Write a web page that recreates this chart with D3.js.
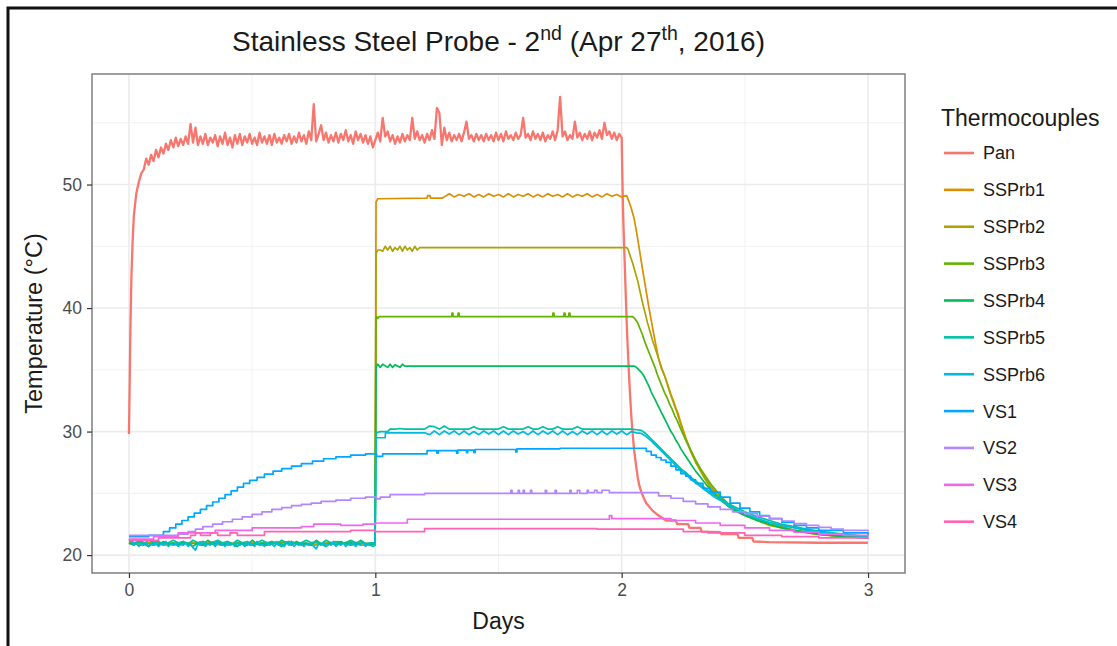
<!DOCTYPE html>
<html>
<head>
<meta charset="utf-8">
<script src="https://cdn.jsdelivr.net/npm/d3@7"></script>
<style>
  html, body { margin: 0; padding: 0; background: #fff; }
  svg { display: block; font-family: "Liberation Sans", Arial, Helvetica, sans-serif; }
</style>
</head>
<body>
<svg id="chart" width="1117" height="646"></svg>
<script>
// ---- data -------------------------------------------------------------
const seriesNames = ["Pan", "SSPrb1", "SSPrb2", "SSPrb3", "SSPrb4", "SSPrb5", "SSPrb6", "VS1", "VS2", "VS3", "VS4"];
const seriesColors = ["#F8766D", "#DB8E00", "#AEA200", "#64B200", "#00BD5C", "#00C1A7", "#00BADE", "#00A6FF", "#B385FF", "#EF67EB", "#FF63B6"];
const xTicks = [0, 1, 2, 3];
const yTicks = [20, 30, 40, 50];
const xMinor = [0.5, 1.5, 2.5];
const yMinor = [25, 35, 45, 55];

// readings logged at a fixed interval: [day, °C]
function sampled(start, step, temps) {
  return temps.map((t, i) => [+(start + i * step).toFixed(4), t]);
}

const panRise = [[0, 29.8], [0.003, 34.0], [0.006, 38.5], [0.01, 42.5], [0.015, 45.5], [0.02, 47.5], [0.03, 49.3], [0.04, 50.2], [0.05, 50.9]];
const panHold = [
  51.2, 52.1, 51.6, 52.4, 51.9, 52.8, 52.2, 53.0, 52.5, 53.3,
  52.8, 53.6, 53.0, 53.8, 53.1, 53.7, 53.2, 53.9, 53.3, 54.9,
  53.4, 54.6, 53.2, 53.9, 53.3, 54.1, 53.2, 53.8, 53.4, 54.0,
  53.1, 53.9, 53.3, 54.2, 53.2, 53.8, 53.0, 54.0, 53.3, 54.1,
  53.2, 53.9, 53.4, 54.1, 53.3, 53.8, 53.2, 54.2, 53.4, 53.9,
  53.3, 54.0, 53.2, 54.1, 53.4, 53.8, 53.3, 54.0, 53.5, 54.1,
  53.3, 53.9, 53.4, 54.2, 53.5, 54.0, 53.3, 54.3, 53.6, 56.5,
  53.5, 54.1, 54.8, 53.6, 54.2, 53.4, 54.0, 53.5, 54.2, 53.4,
  54.1, 53.6, 54.4, 53.5, 54.0, 53.3, 54.3, 53.6, 54.1, 53.4,
  54.0, 53.3, 53.9, 53.0, 53.6, 54.2, 53.5, 55.4, 53.9, 54.3,
  53.5, 54.0, 53.3, 53.9, 53.4, 54.1, 53.5, 54.0, 53.6, 55.4,
  53.7, 54.3, 53.6, 54.0, 53.4, 54.1, 53.6, 54.4, 53.7, 56.2,
  55.8, 53.2, 54.6, 53.6, 54.2, 53.5, 54.0, 53.6, 54.1, 53.5,
  54.2, 55.1, 53.7, 54.0, 53.5, 54.1, 53.6, 54.0, 53.5, 54.1,
  53.6, 54.0, 53.5, 54.2, 53.6, 54.1, 53.5, 54.3, 53.7, 54.0,
  53.6, 54.2, 53.7, 54.0, 55.4, 53.8, 54.1, 53.6, 54.3, 53.7,
  54.1, 53.6, 54.2, 53.5, 54.0, 53.7, 54.3, 53.6, 54.4, 57.1,
  53.9, 54.3, 53.6, 54.0, 53.7, 55.1, 53.8, 54.2, 53.6, 54.1,
  53.7, 54.3, 53.6, 54.2, 53.8, 54.4, 53.7, 55.0, 54.0, 54.3,
  53.7, 54.2, 53.6, 54.1, 53.8
];
const panFall = [[2.003, 50.3], [2.006, 47.5], [2.01, 45.0], [2.015, 42.0], [2.02, 39.0], [2.025, 36.6], [2.03, 34.5], [2.035, 32.6], [2.04, 31.0], [2.045, 29.7], [2.05, 28.6], [2.058, 27.3], [2.065, 26.3], [2.072, 25.6], [2.08, 25.1], [2.09, 24.6], [2.1, 24.2], [2.125, 23.6], [2.15, 23.2], [2.18, 22.8], [2.22, 22.8], [2.225, 22.5], [2.27, 22.5], [2.275, 22.2], [2.32, 22.2], [2.325, 21.9], [2.4, 21.85], [2.405, 21.7], [2.47, 21.7], [2.475, 21.4], [2.53, 21.4], [2.535, 21.1], [2.6, 21.05], [2.8, 21.0], [3.0, 21.0]];

const ssprb1Idle = [21.1, 20.9, 21.0, 20.8, 21.0, 20.9, 21.1, 20.8, 21.0, 20.9, 21.0, 20.8, 21.1, 20.9, 21.0, 20.8, 21.0, 20.9, 21.1, 20.9];
const ssprb1Step = [[0.999, 20.9], [1.003, 48.6], [1.01, 48.85], [1.21, 48.9], [1.212, 49.1], [1.222, 49.1], [1.224, 48.9], [1.27, 48.9]];
const ssprb1Hold = [49.0, 49.25, 49.0, 49.2, 49.05, 49.25, 49.0, 49.2, 49.0, 49.25, 49.05, 49.2, 49.0, 49.25, 49.0, 49.2, 49.05, 49.25, 49.0, 49.2, 49.0, 49.25, 49.05, 49.2, 49.0, 49.25, 49.0, 49.2, 49.05, 49.25, 49.0, 49.2, 49.0, 49.25, 49.05, 49.2, 49.0, 49.1];
const ssprb1Fall = [[2.03, 48.6], [2.04, 48.0], [2.05, 47.3], [2.06, 46.2], [2.07, 45.0], [2.08, 43.7], [2.09, 42.5], [2.1, 41.3], [2.11, 40.1], [2.12, 39.0], [2.13, 37.9], [2.14, 36.9], [2.15, 35.9], [2.16, 35.2], [2.17, 34.7], [2.18, 34.2], [2.19, 33.6], [2.2, 33.0], [2.21, 32.5], [2.22, 31.9], [2.23, 31.4], [2.24, 30.7], [2.25, 30.1], [2.26, 29.5], [2.28, 28.5], [2.3, 27.6], [2.32, 26.9], [2.34, 26.2], [2.36, 25.6], [2.38, 25.1], [2.4, 24.6], [2.43, 24.1], [2.46, 23.7], [2.5, 23.3], [2.55, 22.9], [2.6, 22.5], [2.65, 22.3], [2.7, 22.0], [2.8, 21.7], [2.9, 21.5], [3.0, 21.4]];

const ssprb2Idle = [21.0, 20.8, 21.1, 20.9, 20.8, 21.0, 20.9, 21.1, 20.8, 21.0, 20.9, 20.8, 21.0, 21.1, 20.9, 20.8, 21.0, 20.9, 21.0, 20.8];
const ssprb2Step = [[0.999, 20.9], [1.003, 44.4], [1.01, 44.7], [1.02, 44.7]];
const ssprb2Jitter = [44.6, 45.0, 44.7, 45.0, 44.6, 44.9, 44.7, 45.0, 44.6, 45.0, 44.7, 44.9, 44.6, 45.0, 44.7, 44.9];
const ssprb2Fall = [[1.19, 44.9], [2.02, 44.9], [2.025, 44.8], [2.035, 44.2], [2.045, 43.6], [2.055, 42.9], [2.065, 42.2], [2.075, 41.3], [2.085, 40.4], [2.095, 39.6], [2.105, 38.8], [2.115, 38.1], [2.125, 37.4], [2.135, 36.8], [2.145, 36.2], [2.155, 35.6], [2.165, 35.0], [2.175, 34.5], [2.19, 33.5], [2.2, 32.9], [2.22, 31.8], [2.24, 30.6], [2.26, 29.4], [2.28, 28.4], [2.3, 27.5], [2.32, 26.8], [2.34, 26.1], [2.36, 25.5], [2.38, 25.0], [2.4, 24.5], [2.43, 24.0], [2.46, 23.6], [2.5, 23.2], [2.55, 22.8], [2.6, 22.4], [2.65, 22.2], [2.7, 21.95], [2.8, 21.65], [2.9, 21.5], [3.0, 21.4]];

const ssprb3Idle = [20.9, 21.1, 20.8, 21.0, 20.9, 21.0, 20.8, 21.1, 20.9, 21.0, 20.8, 21.0, 20.9, 21.1, 20.8, 21.0, 20.9, 21.1, 20.8, 21.0];
const ssprb3Hold = [[0.999, 20.9], [1.003, 39.1], [1.006, 39.3], [1.01, 39.15], [1.015, 39.3], [1.31, 39.3], [1.311, 39.6], [1.315, 39.6], [1.316, 39.3], [1.335, 39.3], [1.336, 39.6], [1.34, 39.6], [1.341, 39.3], [1.72, 39.3], [1.721, 39.6], [1.725, 39.6], [1.726, 39.3], [1.765, 39.3], [1.766, 39.6], [1.77, 39.6], [1.771, 39.3], [1.785, 39.3], [1.786, 39.6], [1.79, 39.6], [1.791, 39.3]];
const ssprb3Fall = [[2.045, 39.3], [2.055, 39.1], [2.065, 38.8], [2.075, 38.3], [2.085, 37.8], [2.095, 37.2], [2.105, 36.7], [2.115, 36.2], [2.125, 35.7], [2.135, 35.2], [2.145, 34.6], [2.155, 34.1], [2.165, 33.6], [2.175, 33.1], [2.185, 32.7], [2.195, 32.2], [2.205, 31.8], [2.215, 31.3], [2.225, 30.9], [2.24, 30.2], [2.26, 29.3], [2.28, 28.5], [2.3, 27.7], [2.32, 27.0], [2.34, 26.4], [2.36, 25.8], [2.38, 25.3], [2.4, 24.8], [2.43, 24.2], [2.46, 23.7], [2.5, 23.3], [2.55, 22.9], [2.6, 22.5], [2.65, 22.25], [2.7, 22.0], [2.8, 21.7], [2.9, 21.55], [3.0, 21.45]];

const ssprb4Idle = [
  21.0, 20.8, 21.1, 20.9, 20.7, 21.0, 20.8, 21.1, 20.9, 21.0,
  20.8, 21.1, 20.9, 20.7, 21.0, 20.8, 21.2, 20.9, 21.0, 20.8,
  21.1, 20.9, 20.7, 21.0, 20.8, 21.2, 20.9, 21.0, 20.8, 21.1,
  20.9, 20.7, 21.0, 20.8, 21.1, 20.9, 21.0, 20.8, 21.2, 20.9,
  20.7, 21.0, 20.8, 21.1, 20.9, 21.0, 20.8, 21.2, 20.9, 20.8
];
const ssprb4Hold = [[0.999, 20.9], [1.003, 35.2], [1.01, 35.45], [1.02, 35.2], [1.03, 35.45], [1.05, 35.2], [1.06, 35.45], [1.07, 35.2], [1.08, 35.4], [1.1, 35.2], [1.11, 35.45], [1.12, 35.3], [2.05, 35.3]];
const ssprb4Fall = [[2.06, 35.2], [2.07, 35.0], [2.08, 34.8], [2.09, 34.5], [2.1, 34.1], [2.11, 33.7], [2.12, 33.2], [2.13, 32.8], [2.14, 32.4], [2.15, 32.0], [2.16, 31.6], [2.17, 31.2], [2.18, 30.8], [2.19, 30.4], [2.2, 30.0], [2.21, 29.7], [2.22, 29.3], [2.23, 29.0], [2.24, 28.6], [2.26, 28.0], [2.28, 27.4], [2.3, 26.8], [2.32, 26.3], [2.34, 25.8], [2.36, 25.3], [2.38, 24.9], [2.4, 24.5], [2.43, 24.0], [2.46, 23.6], [2.5, 23.2], [2.55, 22.8], [2.6, 22.5], [2.65, 22.2], [2.7, 22.0], [2.8, 21.7], [2.9, 21.5], [3.0, 21.4]];

const ssprb5Idle = [
  21.2, 21.0, 21.1, 20.9, 21.2, 21.0, 21.1, 20.9, 21.0, 21.2,
  21.0, 21.1, 20.9, 21.2, 21.0, 21.1, 20.9, 21.0, 21.2, 21.0,
  21.1, 20.9, 21.2, 21.0, 21.1, 20.9, 21.0, 21.2, 21.0, 21.1,
  20.9, 21.2, 21.0, 21.1, 20.9, 21.0, 21.2, 21.0, 21.1, 20.9,
  21.2, 21.0, 21.1, 20.9, 21.0, 21.2, 21.0, 21.1, 20.9, 21.0
];
const ssprb5Step = [[0.999, 21.0], [1.003, 29.9], [1.02, 30.0], [1.05, 30.0]];
const ssprb5Hold = [
  30.2, 30.2, 30.25, 30.2, 30.2, 30.2, 30.2, 30.2, 30.45, 30.4,
  30.2, 30.45, 30.2, 30.2, 30.2, 30.2, 30.2, 30.4, 30.2, 30.2,
  30.2, 30.2, 30.2, 30.4, 30.2, 30.2, 30.2, 30.2, 30.4, 30.2,
  30.2, 30.4, 30.2, 30.2, 30.4, 30.2, 30.2, 30.2, 30.4, 30.2,
  30.2, 30.2, 30.2, 30.2, 30.2, 30.2, 30.2, 30.2, 30.2, 30.2,
  30.15, 30.1
];
const ssprb5Fall = [[2.1, 29.8], [2.12, 29.4], [2.14, 29.0], [2.16, 28.6], [2.18, 28.2], [2.2, 27.8], [2.22, 27.4], [2.24, 27.0], [2.26, 26.7], [2.28, 26.3], [2.3, 26.0], [2.32, 25.7], [2.34, 25.4], [2.36, 25.1], [2.38, 24.8], [2.4, 24.6], [2.43, 24.2], [2.46, 23.9], [2.5, 23.5], [2.55, 23.1], [2.6, 22.8], [2.65, 22.5], [2.7, 22.3], [2.75, 22.1], [2.8, 21.95], [2.9, 21.7], [3.0, 21.5]];

const ssprb6Idle = [
  21.3, 21.1, 20.8, 21.0, 20.7, 20.9, 20.8, 21.0, 20.7, 20.9,
  20.8, 21.0, 20.7, 20.9, 20.8, 21.1, 20.7, 20.9, 20.8, 21.0,
  20.7, 20.9, 20.8, 21.0, 20.7, 20.9, 20.6, 20.4, 20.9, 20.8,
  21.0, 20.7, 20.9, 20.8, 21.0, 20.7, 21.1, 20.8, 20.9, 20.7,
  21.0, 20.8, 20.9, 20.7, 21.0, 20.8, 20.9, 20.7, 21.0, 20.8,
  20.9, 20.7, 21.1, 20.8, 20.9, 20.7, 21.0, 20.8, 20.9, 20.7,
  21.0, 20.8, 20.9, 20.7, 21.0, 20.8, 21.1, 20.7, 20.9, 20.8,
  21.0, 20.7, 20.9, 20.8, 21.0, 20.7, 20.5, 20.9, 20.8, 21.0,
  20.7, 20.9, 20.8, 21.1, 20.7, 20.9, 20.8, 21.0, 20.7, 20.9,
  20.8, 21.0, 20.7, 20.9, 20.8, 21.1, 20.7, 20.9, 20.8, 20.7
];
const ssprb6Step = [[0.999, 20.8], [1.003, 29.5], [1.04, 29.5], [1.041, 29.9], [1.2, 29.9]];
const ssprb6Hold = [
  29.75, 30.05, 29.75, 30.05, 29.8, 30.05, 29.75, 30.05, 29.75, 30.0,
  29.75, 30.05, 29.8, 30.05, 29.75, 30.05, 29.75, 30.05, 29.8, 30.0,
  29.75, 30.05, 29.75, 30.05, 29.8, 30.05, 29.75, 30.05, 29.75, 30.0,
  29.75, 30.05, 29.8, 30.05, 29.75, 30.05, 29.75, 30.05, 29.8, 30.05,
  29.75, 30.0, 29.9
];
const ssprb6Fall = [[2.08, 29.85], [2.1, 29.6], [2.12, 29.25], [2.14, 28.85], [2.16, 28.45], [2.18, 28.05], [2.2, 27.65], [2.22, 27.25], [2.24, 26.85], [2.26, 26.55], [2.28, 26.15], [2.3, 25.85], [2.32, 25.55], [2.34, 25.25], [2.36, 24.95], [2.38, 24.65], [2.4, 24.45], [2.43, 24.05], [2.46, 23.75], [2.5, 23.35], [2.55, 22.95], [2.6, 22.65], [2.65, 22.4], [2.7, 22.2], [2.75, 22.0], [2.8, 21.85], [2.9, 21.65], [3.0, 21.5]];

// wall sensors: quantised readings, held until the next change
const vs1 = [[0, 21.5], [0.08, 21.6], [0.14, 21.9], [0.165, 22.2], [0.19, 22.5], [0.215, 22.8], [0.24, 23.1], [0.265, 23.4], [0.29, 23.7], [0.315, 24.0], [0.34, 24.3], [0.365, 24.6], [0.39, 24.9], [0.415, 25.2], [0.44, 25.5], [0.465, 25.8], [0.49, 26.05], [0.52, 26.3], [0.55, 26.55], [0.585, 26.8], [0.62, 27.0], [0.66, 27.2], [0.7, 27.4], [0.745, 27.6], [0.79, 27.8], [0.84, 27.95], [0.9, 28.1], [0.96, 28.2], [1.005, 28.0], [1.03, 28.2], [1.21, 28.45], [1.25, 28.25], [1.255, 28.45], [1.33, 28.25], [1.335, 28.5], [1.37, 28.3], [1.375, 28.5], [1.4, 28.3], [1.405, 28.55], [1.57, 28.35], [1.575, 28.6], [1.75, 28.65], [2.1, 28.4], [2.12, 28.1], [2.14, 27.9], [2.16, 27.7], [2.18, 27.5], [2.2, 27.2], [2.22, 26.9], [2.24, 26.6], [2.26, 26.4], [2.28, 26.1], [2.3, 25.8], [2.33, 25.4], [2.36, 25.1], [2.4, 24.7], [2.44, 24.2], [2.48, 23.8], [2.52, 23.5], [2.56, 23.2], [2.6, 22.95], [2.65, 22.65], [2.7, 22.4], [2.75, 22.2], [2.8, 22.0], [2.9, 21.8], [3.0, 21.6]];
const vs2 = [[0, 21.6], [0.2, 21.7], [0.24, 21.9], [0.27, 22.1], [0.3, 22.3], [0.34, 22.5], [0.38, 22.7], [0.42, 22.9], [0.46, 23.1], [0.5, 23.3], [0.54, 23.5], [0.58, 23.7], [0.62, 23.85], [0.66, 24.0], [0.7, 24.1], [0.74, 24.2], [0.78, 24.35], [0.84, 24.45], [0.9, 24.6], [0.96, 24.7], [1.005, 24.55], [1.02, 24.7], [1.06, 24.9], [1.2, 25.0], [1.55, 25.25], [1.555, 25.0], [1.58, 25.25], [1.585, 25.0], [1.6, 25.25], [1.605, 25.0], [1.63, 25.25], [1.635, 25.0], [1.69, 25.25], [1.695, 25.0], [1.73, 25.25], [1.735, 25.0], [1.79, 25.25], [1.795, 25.0], [1.82, 25.25], [1.83, 25.0], [1.86, 25.25], [1.865, 25.05], [1.89, 25.25], [1.9, 25.05], [1.92, 25.25], [1.95, 25.05], [2.15, 24.8], [2.2, 24.6], [2.25, 24.35], [2.3, 24.15], [2.35, 23.9], [2.4, 23.7], [2.45, 23.5], [2.5, 23.35], [2.55, 23.15], [2.6, 22.95], [2.65, 22.75], [2.7, 22.55], [2.75, 22.4], [2.8, 22.25], [2.85, 22.1], [2.9, 22.0], [3.0, 21.9]];
const vs3 = [[0, 21.3], [0.1, 21.5], [0.2, 21.8], [0.35, 22.0], [0.5, 22.2], [0.7, 22.3], [0.75, 22.5], [0.86, 22.4], [0.95, 22.5], [1.0, 22.6], [1.13, 22.9], [1.95, 23.2], [1.96, 22.95], [2.2, 22.8], [2.3, 22.6], [2.4, 22.4], [2.5, 22.2], [2.6, 22.0], [2.7, 21.85], [2.8, 21.7], [2.9, 21.6], [3.0, 21.5]];
const vs4 = [[0, 21.2], [0.12, 21.4], [0.25, 21.6], [0.27, 21.8], [0.29, 21.6], [0.33, 21.8], [0.36, 21.6], [0.41, 21.8], [0.44, 21.6], [0.55, 21.9], [0.9, 22.0], [1.0, 21.9], [1.2, 22.15], [1.9, 22.1], [2.25, 21.9], [2.35, 21.8], [2.5, 21.6], [2.65, 21.5], [2.8, 21.4], [3.0, 21.3]];

const pan = panRise.concat(sampled(0.06, 0.01, panHold), panFall);
const ssprb1 = sampled(0, 0.05, ssprb1Idle).concat(ssprb1Step, sampled(1.28, 0.02, ssprb1Hold), ssprb1Fall);
const ssprb2 = sampled(0, 0.05, ssprb2Idle).concat(ssprb2Step, sampled(1.03, 0.01, ssprb2Jitter), ssprb2Fall);
const ssprb3 = sampled(0, 0.05, ssprb3Idle).concat(ssprb3Hold, ssprb3Fall);
const ssprb4 = sampled(0, 0.02, ssprb4Idle).concat(ssprb4Hold, ssprb4Fall);
const ssprb5 = sampled(0, 0.02, ssprb5Idle).concat(ssprb5Step, sampled(1.06, 0.02, ssprb5Hold), ssprb5Fall);
const ssprb6 = sampled(0, 0.01, ssprb6Idle).concat(ssprb6Step, sampled(1.22, 0.02, ssprb6Hold), ssprb6Fall);

const seriesData = [pan, ssprb1, ssprb2, ssprb3, ssprb4, ssprb5, ssprb6, vs1, vs2, vs3, vs4];
// wall sensors are drawn as held (stepped) readings
const stepped = [false, false, false, false, false, false, false, true, true, true, true];

// ---- layout -----------------------------------------------------------
const W = 1117, H = 646;
const panel = { left: 92, right: 905, top: 74, bottom: 573 };
const FONT = '"Liberation Sans", Arial, Helvetica, sans-serif';
const svg = d3.select("#chart");

svg.append("rect").attr("width", W).attr("height", H).attr("fill", "#fff");

// frame around the figure (top and left edges)
svg.append("path")
  .attr("d", `M8,${H} L8,8 L${W},8`)
  .attr("fill", "none").attr("stroke", "#111").attr("stroke-width", 3);

const x = d3.scaleLinear().domain([-0.15, 3.15]).range([panel.left, panel.right]);
const y = d3.scaleLinear().domain([18.55, 58.95]).range([panel.bottom, panel.top]);

// grid
const grid = svg.append("g");
grid.selectAll(".xminor").data(xMinor).join("line")
  .attr("x1", d => x(d)).attr("x2", d => x(d)).attr("y1", panel.top).attr("y2", panel.bottom)
  .attr("stroke", "#F2F2F2").attr("stroke-width", 1);
grid.selectAll(".yminor").data(yMinor).join("line")
  .attr("y1", d => y(d)).attr("y2", d => y(d)).attr("x1", panel.left).attr("x2", panel.right)
  .attr("stroke", "#F2F2F2").attr("stroke-width", 1);
grid.selectAll(".xmajor").data(xTicks).join("line")
  .attr("x1", d => x(d)).attr("x2", d => x(d)).attr("y1", panel.top).attr("y2", panel.bottom)
  .attr("stroke", "#EBEBEB").attr("stroke-width", 1.6);
grid.selectAll(".ymajor").data(yTicks).join("line")
  .attr("y1", d => y(d)).attr("y2", d => y(d)).attr("x1", panel.left).attr("x2", panel.right)
  .attr("stroke", "#EBEBEB").attr("stroke-width", 1.6);

// series
svg.append("clipPath").attr("id", "clip").append("rect")
  .attr("x", panel.left).attr("y", panel.top)
  .attr("width", panel.right - panel.left).attr("height", panel.bottom - panel.top);

const lines = svg.append("g").attr("clip-path", "url(#clip)");
seriesData.forEach((pts, i) => {
  const gen = d3.line().x(d => x(d[0])).y(d => y(d[1]))
    .curve(stepped[i] ? d3.curveStepAfter : d3.curveLinear);
  lines.append("path").datum(pts)
    .attr("d", gen)
    .attr("fill", "none")
    .attr("stroke", seriesColors[i])
    .attr("stroke-width", i === 0 ? 2.3 : 1.7)
    .attr("stroke-linejoin", "round");
});

// panel border
svg.append("rect")
  .attr("x", panel.left).attr("y", panel.top)
  .attr("width", panel.right - panel.left).attr("height", panel.bottom - panel.top)
  .attr("fill", "none").attr("stroke", "#7F7F7F").attr("stroke-width", 1.5);

// axes
const xAxis = svg.append("g").attr("transform", `translate(0,${panel.bottom})`)
  .call(d3.axisBottom(x).tickValues(xTicks).tickFormat(d3.format("d")).tickSize(5).tickPadding(6));
const yAxis = svg.append("g").attr("transform", `translate(${panel.left},0)`)
  .call(d3.axisLeft(y).tickValues(yTicks).tickFormat(d3.format("d")).tickSize(5).tickPadding(5));
[xAxis, yAxis].forEach(g => {
  g.select(".domain").remove();
  g.selectAll(".tick line").attr("stroke", "#333").attr("stroke-width", 1.2);
  g.selectAll(".tick text").attr("fill", "#4D4D4D").style("font-size", "17.5px").style("font-family", FONT);
});

// titles
const title = svg.append("text").attr("x", (panel.left + panel.right) / 2).attr("y", 51)
  .attr("text-anchor", "middle").style("font-size", "28px").attr("fill", "#1a1a1a");
title.append("tspan").text("Stainless Steel Probe - 2");
title.append("tspan").text("nd").attr("dy", -11).style("font-size", "19.5px");
title.append("tspan").text(" (Apr 27").attr("dy", 11);
title.append("tspan").text("th").attr("dy", -11).style("font-size", "19.5px");
title.append("tspan").text(", 2016)").attr("dy", 11);

svg.append("text").attr("x", (panel.left + panel.right) / 2).attr("y", 629)
  .attr("text-anchor", "middle").style("font-size", "23px").attr("fill", "#1a1a1a").text("Days");
svg.append("text")
  .attr("transform", `translate(42,${(panel.top + panel.bottom) / 2}) rotate(-90)`)
  .attr("text-anchor", "middle").style("font-size", "23.5px").attr("fill", "#1a1a1a")
  .text("Temperature (°C)");

// legend
const legend = svg.append("g");
legend.append("text").attr("x", 941).attr("y", 126).style("font-size", "23px").attr("fill", "#1a1a1a")
  .text("Thermocouples");
const item = legend.selectAll(".item").data(seriesNames).join("g")
  .attr("transform", (d, i) => `translate(0,${153 + i * 36.87})`);
item.append("line").attr("x1", 944).attr("x2", 974)
  .attr("stroke", (d, i) => seriesColors[i]).attr("stroke-width", 2.6);
item.append("text").attr("x", 983).attr("dy", "0.36em").style("font-size", "18px").attr("fill", "#1a1a1a")
  .text(d => d);
</script>
</body>
</html>
